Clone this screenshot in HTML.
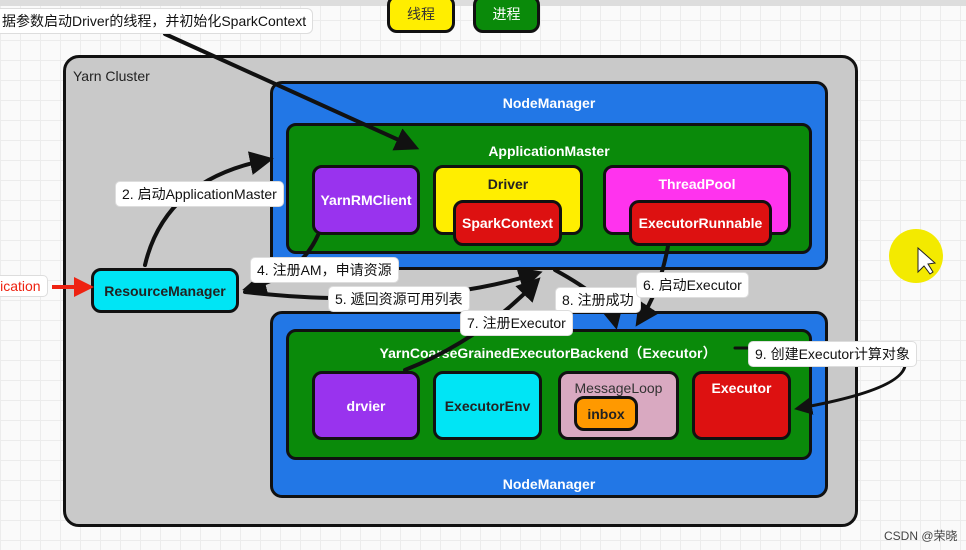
<!DOCTYPE html>
<html><head><meta charset="utf-8"><style>
*{margin:0;padding:0;box-sizing:border-box}
body{width:966px;height:550px;overflow:hidden;position:relative;font-family:"Liberation Sans","Noto Sans CJK SC",sans-serif;
background-color:#fafafa;background-image:linear-gradient(#ececec 1px,transparent 1px),linear-gradient(90deg,#ececec 1px,transparent 1px);background-size:20px 20px}
.b{position:absolute;border:3px solid #111;border-radius:10px;display:flex;align-items:center;justify-content:center;font-size:14px;font-weight:bold}
.t{position:absolute;font-size:14px;font-weight:bold;text-align:center}
.l{position:absolute;background:#fff;border-radius:5px;font-size:14px;padding:2px 6px;color:#111;white-space:nowrap;border:1px solid #ddd}
svg{position:absolute;left:0;top:0}
</style></head><body>
<div style="position:absolute;left:0;top:0;width:966px;height:6px;background:#ddd"></div>
<div class="b" style="left:387px;top:-5px;width:68px;height:38px;background:#ffee00;color:#333;font-weight:normal">线程</div>
<div class="b" style="left:473px;top:-5px;width:67px;height:38px;background:#0a8a0a;color:#fff;font-weight:normal">进程</div>

<div class="b" style="left:63px;top:55px;width:795px;height:472px;background:#c9c9c9;border-radius:16px;align-items:flex-start;justify-content:flex-start"></div>
<div class="t" style="left:73px;top:68px;font-weight:normal;color:#222">Yarn Cluster</div>

<div class="b" style="left:270px;top:81px;width:558px;height:189px;background:#2277e6;border-radius:12px"></div>
<div class="t" style="left:270px;top:95px;width:558px;color:#fff">NodeManager</div>
<div class="b" style="left:286px;top:123px;width:526px;height:131px;background:#0a8a0a"></div>
<div class="t" style="left:286px;top:143px;width:526px;color:#fff">ApplicationMaster</div>
<div class="b" style="left:312px;top:165px;width:108px;height:70px;background:#9933ee;color:#fff">YarnRMClient</div>
<div class="b" style="left:433px;top:165px;width:150px;height:70px;background:#ffee00;color:#222;align-items:flex-start;padding-top:8px">Driver</div>
<div class="b" style="left:453px;top:200px;width:109px;height:46px;background:#dd1111;color:#fff">SparkContext</div>
<div class="b" style="left:603px;top:165px;width:188px;height:70px;background:#ff33ee;color:#fff;align-items:flex-start;padding-top:8px">ThreadPool</div>
<div class="b" style="left:629px;top:200px;width:143px;height:46px;background:#dd1111;color:#fff">ExecutorRunnable</div>

<div class="b" style="left:270px;top:311px;width:558px;height:187px;background:#2277e6;border-radius:12px"></div>
<div class="t" style="left:270px;top:476px;width:558px;color:#fff">NodeManager</div>
<div class="b" style="left:286px;top:329px;width:526px;height:131px;background:#0a8a0a"></div>
<div class="t" style="left:328px;top:343px;width:440px;color:#fff">YarnCoarseGrainedExecutorBackend（Executor）</div>
<div class="b" style="left:312px;top:371px;width:108px;height:69px;background:#9933ee;color:#fff">drvier</div>
<div class="b" style="left:433px;top:371px;width:109px;height:69px;background:#00e5f5;color:#222">ExecutorEnv</div>
<div class="b" style="left:558px;top:371px;width:121px;height:69px;background:#d9a9c1;color:#333;align-items:flex-start;padding-top:6px;font-weight:normal">MessageLoop</div>
<div class="b" style="left:574px;top:396px;width:64px;height:35px;background:#ff9900;color:#222">inbox</div>
<div class="b" style="left:692px;top:371px;width:99px;height:69px;background:#dd1111;color:#fff;align-items:flex-start;padding-top:6px">Executor</div>

<div class="b" style="left:91px;top:268px;width:148px;height:45px;background:#00e5f5;color:#222">ResourceManager</div>

<svg width="966" height="550">
<defs><marker id="a" markerWidth="6" markerHeight="6" refX="4" refY="3" orient="auto"><path d="M0,0L6,3L0,6z" fill="#111"/></marker>
<marker id="r" markerWidth="5" markerHeight="5" refX="3" refY="2.5" orient="auto"><path d="M0,0L5,2.5L0,5z" fill="#e21"/></marker></defs>
<g stroke="#111" stroke-width="4" fill="none" stroke-linecap="round">
<path d="M165,34 L412,146" marker-end="url(#a)"/>
<path d="M145,265 Q165,180 266,160" marker-end="url(#a)"/>
<path d="M318,235 Q300,275 250,288" marker-end="url(#a)"/>
<path d="M245,292 Q300,298 340,298 Q450,300 535,274" marker-end="url(#a)"/>
<path d="M405,370 Q480,340 535,283" marker-end="url(#a)"/>
<path d="M555,270 Q610,300 615,322" marker-end="url(#a)"/>
<path d="M668,246 Q660,290 640,320" marker-end="url(#a)"/>
<path d="M735,348 L760,348" stroke-width="3"/>
<path d="M905,366 Q900,390 800,408" stroke-width="3" marker-end="url(#a)"/>
</g>
<path d="M52,287 L86,287" stroke="#e21" stroke-width="4" marker-end="url(#r)"/>
<circle cx="916" cy="256" r="27" fill="#f3ea00"/>
<path d="M918,248 L918,272 L924,266 L930,274 L933,272 L928,264 L935,263z" fill="#fff" stroke="#222" stroke-width="1"/>
</svg>

<div class="l" style="left:-5px;top:8px;font-size:14px;border-radius:6px">据参数启动Driver的线程，并初始化SparkContext</div>
<div class="l" style="left:-10px;top:275px;color:#e21">lication</div>
<div class="l" style="left:115px;top:181px">2. 启动ApplicationMaster</div>
<div class="l" style="left:250px;top:257px">4. 注册AM，申请资源</div>
<div class="l" style="left:328px;top:286px">5. 遞回资源可用列表</div>
<div class="l" style="left:555px;top:287px">8. 注册成功</div>
<div class="l" style="left:636px;top:272px">6. 启动Executor</div>
<div class="l" style="left:460px;top:310px">7. 注册Executor</div>
<div class="l" style="left:748px;top:341px">9. 创建Executor计算对象</div>
<div style="position:absolute;left:884px;top:527px;font-size:12px;color:#444">CSDN @荣晓</div>
</body></html>
